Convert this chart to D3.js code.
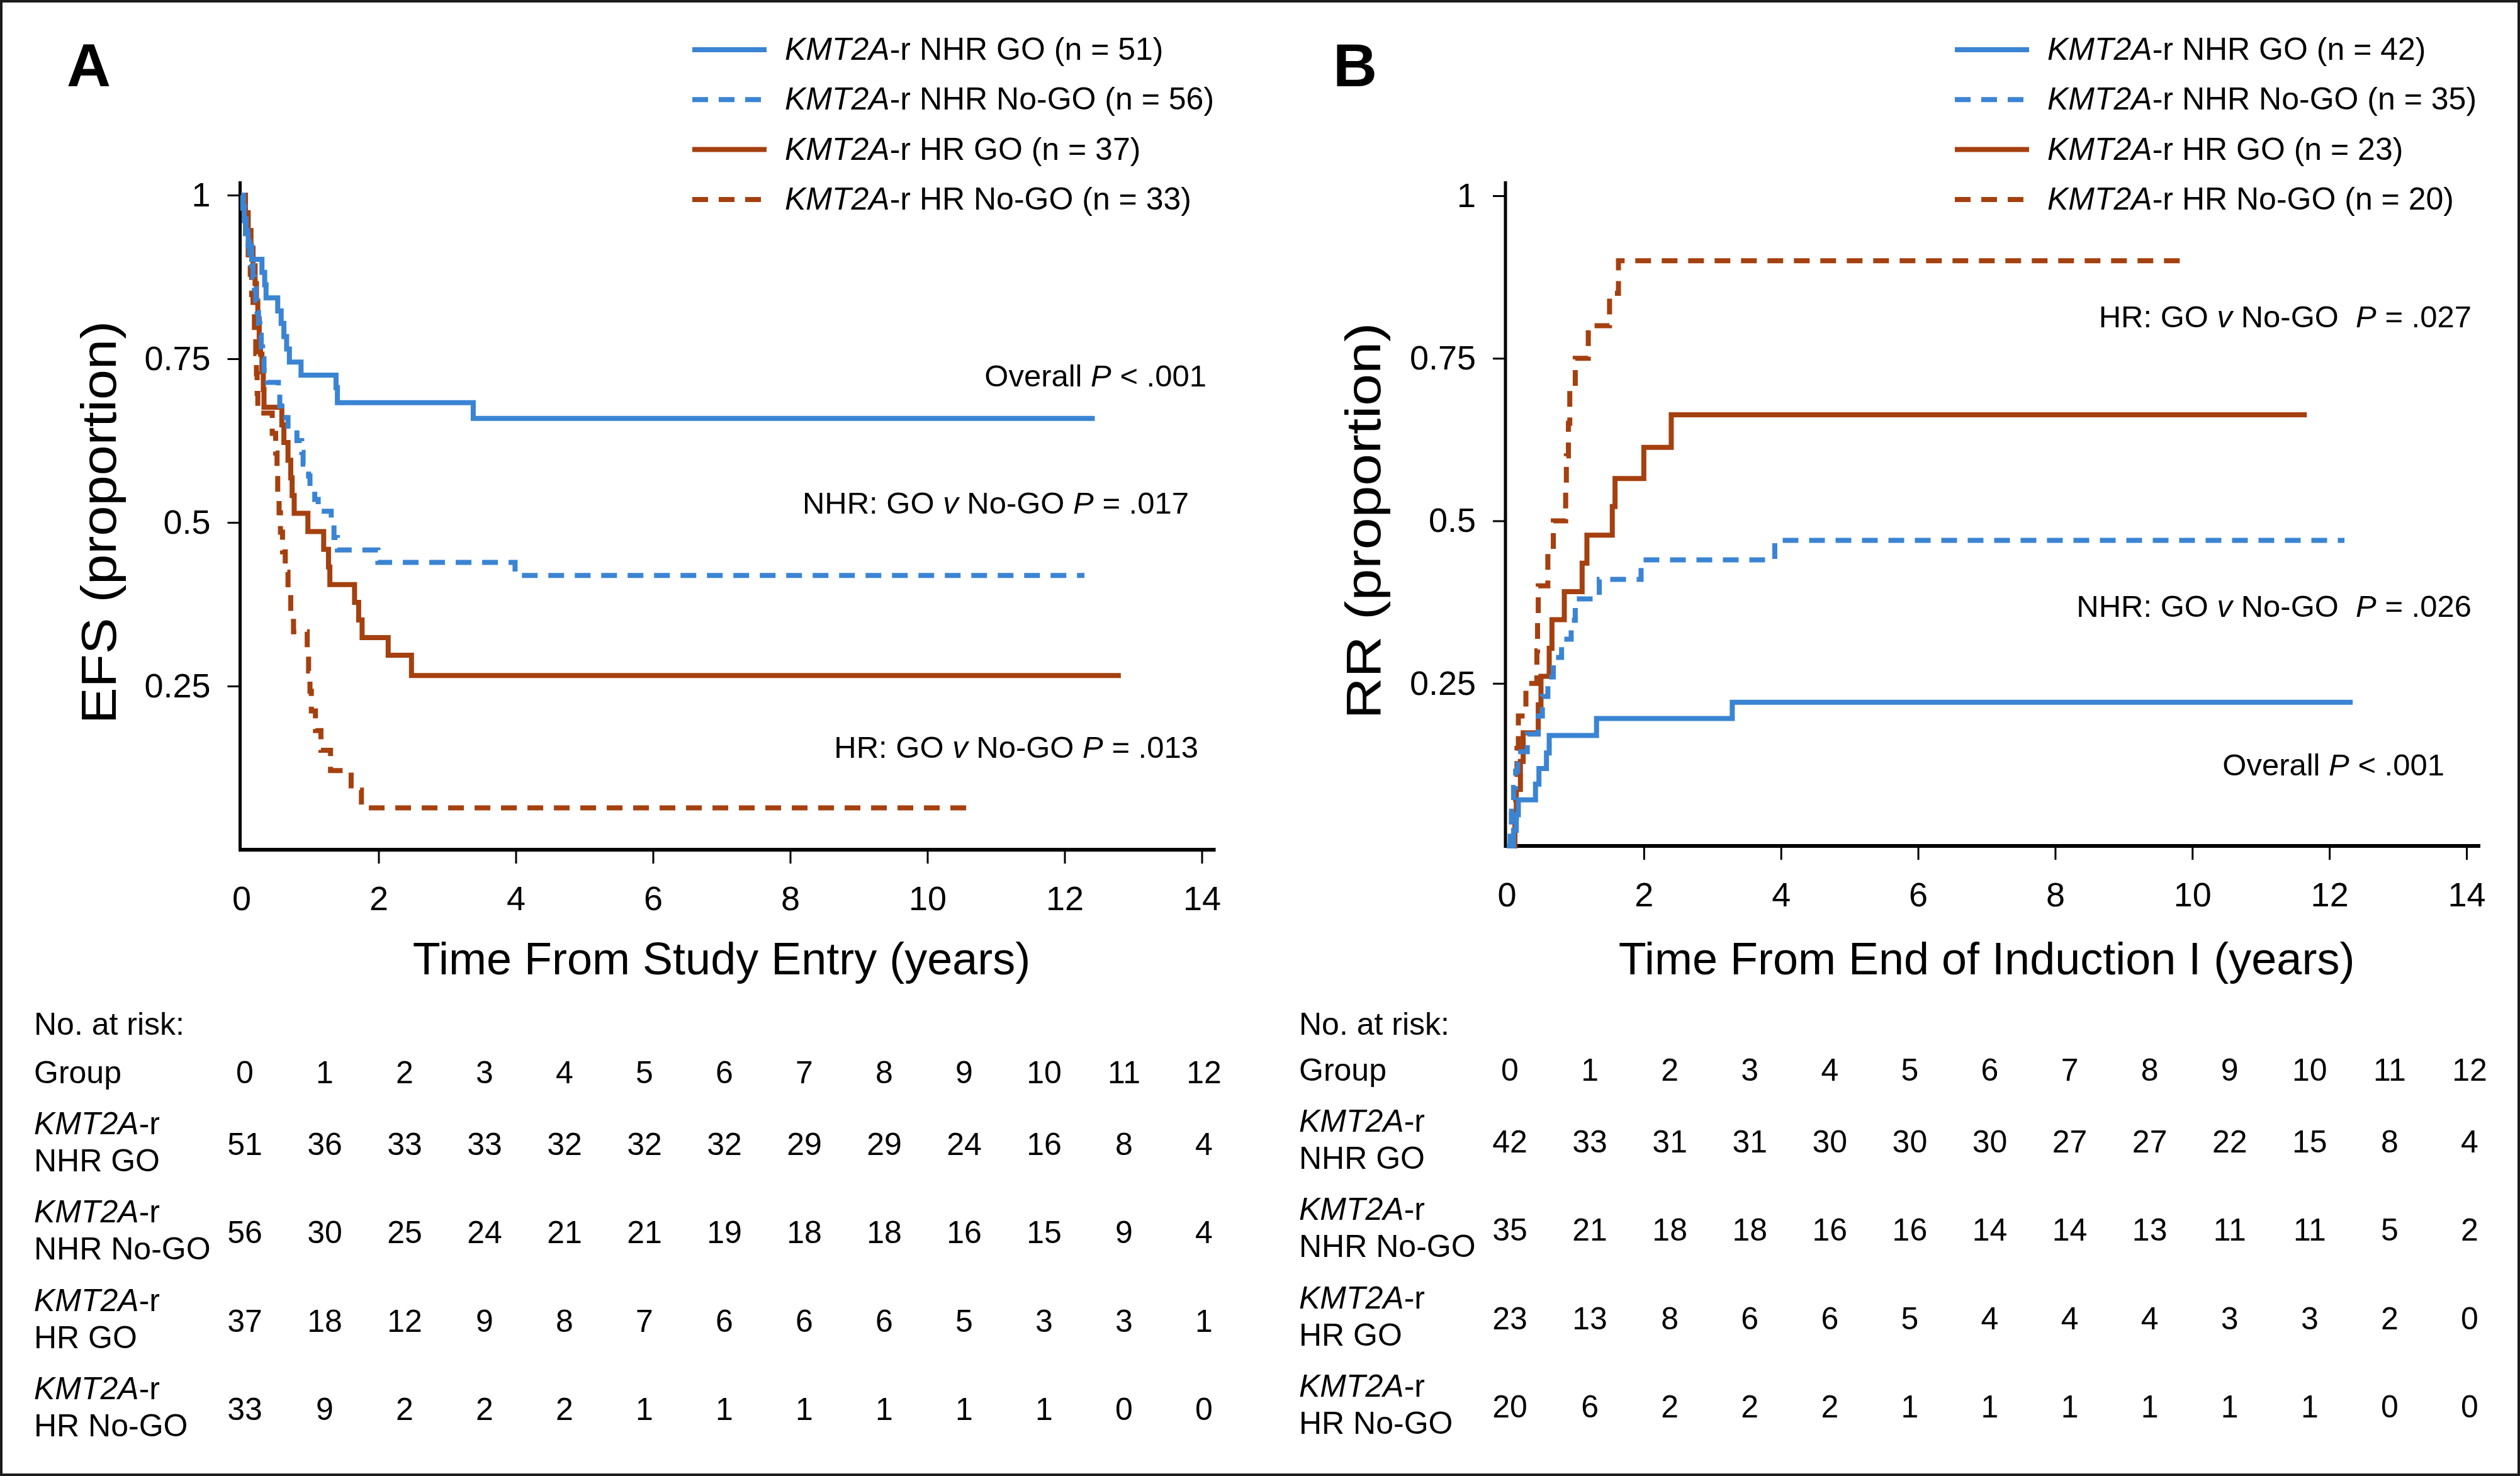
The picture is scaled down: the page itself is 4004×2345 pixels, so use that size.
<!DOCTYPE html>
<html><head><meta charset="utf-8">
<script src="https://cdn.jsdelivr.net/npm/d3@7"></script>
<style>
body{margin:0;background:#fff;}
svg{display:block;}
text{font-family:"Liberation Sans", Arial, Helvetica, sans-serif; fill:#000;}
</style></head><body>
<svg id="chart" width="4004" height="2345"></svg>
<script>
// ---------------- DATA ----------------
const groupNames = ["NHR GO", "NHR No-GO", "HR GO", "HR No-GO"];
const timeTicks = [0, 2, 4, 6, 8, 10, 12, 14];
const propTicks = [0.25, 0.5, 0.75, 1];
const riskTimes = [0, 1, 2, 3, 4, 5, 6, 7, 8, 9, 10, 11, 12];

// Panel A: EFS (Kaplan-Meier, [years, proportion] after each step)
const efsN = [51, 56, 37, 33];
const efsNhrGo = [[0,1],[0.02,0.98],[0.04,0.961],[0.06,0.941],[0.1,0.922],[0.15,0.902],[0.30,0.882],[0.34,0.863],[0.36,0.843],[0.53,0.823],[0.58,0.804],[0.62,0.784],[0.66,0.765],[0.70,0.745],[0.87,0.725],[1.38,0.706],[1.40,0.683],[3.38,0.659]];
const efsNhrNoGo = [[0,1],[0.03,0.982],[0.05,0.964],[0.07,0.946],[0.09,0.929],[0.12,0.911],[0.15,0.893],[0.17,0.875],[0.19,0.857],[0.21,0.839],[0.23,0.821],[0.25,0.804],[0.27,0.786],[0.29,0.768],[0.31,0.75],[0.33,0.732],[0.38,0.714],[0.54,0.696],[0.56,0.678],[0.65,0.66],[0.68,0.643],[0.81,0.625],[0.88,0.607],[0.90,0.589],[0.98,0.571],[1.00,0.553],[1.07,0.535],[1.12,0.517],[1.31,0.496],[1.35,0.477],[1.40,0.458],[1.99,0.439],[3.99,0.419]];
const efsHrGo = [[0,1],[0.06,0.973],[0.1,0.946],[0.14,0.919],[0.17,0.892],[0.2,0.865],[0.22,0.838],[0.24,0.811],[0.26,0.784],[0.28,0.757],[0.30,0.730],[0.32,0.703],[0.33,0.676],[0.59,0.649],[0.62,0.622],[0.68,0.595],[0.72,0.568],[0.74,0.541],[0.77,0.514],[0.97,0.486],[1.2,0.459],[1.27,0.432],[1.29,0.405],[1.65,0.378],[1.71,0.351],[1.76,0.324],[2.14,0.297],[2.48,0.266]];
const efsHrNoGo = [[0,1],[0.05,0.97],[0.08,0.939],[0.1,0.909],[0.13,0.879],[0.15,0.848],[0.17,0.818],[0.19,0.788],[0.21,0.758],[0.22,0.727],[0.23,0.697],[0.24,0.667],[0.45,0.636],[0.5,0.606],[0.52,0.576],[0.53,0.545],[0.55,0.515],[0.57,0.485],[0.6,0.455],[0.64,0.424],[0.68,0.394],[0.72,0.364],[0.76,0.333],[0.96,0.303],[0.98,0.273],[1.0,0.242],[1.02,0.212],[1.08,0.182],[1.16,0.152],[1.3,0.121],[1.6,0.091],[1.75,0.064]];
const efsLastTime = [12.44, 12.29, 12.82, 10.6];
const efsAtRisk = [
  [51,36,33,33,32,32,32,29,29,24,16,8,4],
  [56,30,25,24,21,21,19,18,18,16,15,9,4],
  [37,18,12,9,8,7,6,6,6,5,3,3,1],
  [33,9,2,2,2,1,1,1,1,1,1,0,0]
];
const efsNotes = [
  [["Overall ",0],["P",1],[" < .001",0]],
  [["NHR: GO ",0],["v",1],[" No-GO ",0],["P",1],[" = .017",0]],
  [["HR: GO ",0],["v",1],[" No-GO ",0],["P",1],[" = .013",0]]
];

// Panel B: RR (cumulative incidence)
const rrN = [42, 35, 23, 20];
const rrNhrGo = [[0,0],[0.1,0.024],[0.14,0.048],[0.17,0.071],[0.42,0.095],[0.47,0.119],[0.58,0.143],[0.62,0.17],[1.31,0.196],[3.29,0.221]];
const rrNhrNoGo = [[0,0],[0.05,0.03],[0.07,0.06],[0.1,0.09],[0.13,0.115],[0.16,0.145],[0.3,0.172],[0.46,0.2],[0.52,0.23],[0.6,0.26],[0.68,0.29],[0.8,0.318],[0.94,0.347],[1.0,0.38],[1.35,0.41],[1.96,0.44],[3.91,0.47]];
const rrHrGo = [[0,0],[0.12,0.043],[0.14,0.087],[0.2,0.13],[0.24,0.174],[0.46,0.217],[0.5,0.261],[0.62,0.304],[0.66,0.348],[0.84,0.391],[1.1,0.435],[1.17,0.478],[1.54,0.522],[1.58,0.565],[2.0,0.613],[2.4,0.663]];
const rrHrNoGo = [[0,0],[0.07,0.05],[0.13,0.10],[0.15,0.15],[0.17,0.20],[0.28,0.25],[0.44,0.30],[0.45,0.35],[0.46,0.40],[0.6,0.45],[0.68,0.50],[0.86,0.55],[0.87,0.60],[0.9,0.65],[0.92,0.70],[1.0,0.75],[1.19,0.80],[1.5,0.85],[1.63,0.90]];
const rrLastTime = [12.34, 12.22, 11.67, 9.85];
const rrAtRisk = [
  [42,33,31,31,30,30,30,27,27,22,15,8,4],
  [35,21,18,18,16,16,14,14,13,11,11,5,2],
  [23,13,8,6,6,5,4,4,4,3,3,2,0],
  [20,6,2,2,2,1,1,1,1,1,1,0,0]
];
const rrNotes = [
  [["HR: GO ",0],["v",1],[" No-GO  ",0],["P",1],[" = .027",0]],
  [["NHR: GO ",0],["v",1],[" No-GO  ",0],["P",1],[" = .026",0]],
  [["Overall ",0],["P",1],[" < .001",0]]
];

// ---------------- STYLE ----------------
const BLUE = "#3a84d3", BROWN = "#a5400f";
const seriesColor = [BLUE, BLUE, BROWN, BROWN];
const seriesDash = [null, "25,17", null, "25,17"];
const FONT = '"Liberation Sans", Arial, Helvetica, sans-serif';

const svg = d3.select("#chart");
svg.append("rect").attr("x",0).attr("y",0).attr("width",4004).attr("height",2345).attr("fill","#fff");
svg.append("rect").attr("x",2).attr("y",2).attr("width",4000).attr("height",2341)
   .attr("fill","none").attr("stroke","#1c1c1c").attr("stroke-width",4);

function richText(sel, parts) {
  parts.forEach(([t, it]) => sel.append("tspan").attr("font-style", it ? "italic" : "normal").text(t));
}

function panel(o) {
  const g = svg.append("g");
  const x = d3.scaleLinear().domain([0, 14]).range(o.xRange);
  const y = d3.scaleLinear().domain([0, 1]).range(o.yRange);

  // panel letter
  g.append("text").attr("x", o.letterX).attr("y", 137).attr("font-size", 97)
    .attr("font-weight", "bold").text(o.letter);

  // axes
  const xAxis = d3.axisBottom(x).tickValues(timeTicks).tickSize(22).tickPadding(36).tickFormat(d3.format("d"));
  const gx = g.append("g").attr("transform", `translate(0,${y(0)})`).call(xAxis)
    .attr("font-size", null).attr("font-family", null);
  gx.select(".domain").remove();
  gx.selectAll(".tick line").attr("stroke", "#000").attr("stroke-width", 3).filter(d => d === 0).remove();
  gx.selectAll(".tick text").attr("font-size", 54).attr("fill", "#000").style("font-family", FONT);

  const yAxis = d3.axisLeft(y).tickValues(propTicks).tickSize(22).tickPadding(27)
    .tickFormat(d => d === 1 ? "1" : String(d));
  const gy = g.append("g").attr("transform", `translate(${x(0)},0)`).call(yAxis)
    .attr("font-size", null).attr("font-family", null);
  gy.select(".domain").remove();
  gy.selectAll(".tick line").attr("stroke", "#000").attr("stroke-width", 3);
  gy.selectAll(".tick text").attr("font-size", 54).attr("fill", "#000").style("font-family", FONT);

  g.append("line").attr("x1", x(0) - 2).attr("x2", x(0) - 2).attr("y1", 288).attr("y2", y(0) + 3)
    .attr("stroke", "#000").attr("stroke-width", 5);
  g.append("line").attr("x1", x(0) - 4).attr("x2", x(14) + 22).attr("y1", y(0)).attr("y2", y(0))
    .attr("stroke", "#000").attr("stroke-width", 6);

  // axis titles
  g.append("text").attr("x", (o.xRange[0] + o.xRange[1]) / 2).attr("y", 1548)
    .attr("text-anchor", "middle").attr("font-size", 72).text(o.xTitle);
  g.append("text").attr("transform", `translate(${o.yTitleX},${(o.yRange[0] + o.yRange[1]) / 2}) rotate(-90)`)
    .attr("text-anchor", "middle").attr("font-size", 78)
    .attr("textLength", o.yTitleLen).attr("lengthAdjust", "spacingAndGlyphs").text(o.yTitle);

  // curves
  const line = d3.line().x(d => x(d[0])).y(d => y(d[1])).curve(d3.curveStepAfter);
  [3, 2, 1, 0].forEach(i => {
    const c = o.curves[i];
    const pts = c.concat([[o.last[i], c[c.length - 1][1]]]);
    g.append("path").attr("d", line(pts)).attr("fill", "none")
      .attr("stroke", seriesColor[i]).attr("stroke-width", 8)
      .attr("stroke-dasharray", seriesDash[i]);
  });

  // legend
  groupNames.forEach((name, i) => {
    const ly = 79 + i * 79.3;
    g.append("line").attr("x1", o.legendX).attr("x2", o.legendX + 118).attr("y1", ly).attr("y2", ly)
      .attr("stroke", seriesColor[i]).attr("stroke-width", 8).attr("stroke-dasharray", seriesDash[i]);
    const t = g.append("text").attr("x", o.legendX + 147).attr("y", ly + 16).attr("font-size", 50);
    richText(t, [["KMT2A", 1], [`-r ${name} (n = ${o.n[i]})`, 0]]);
  });

  // annotations
  o.notes.forEach((parts, i) => {
    const t = g.append("text").attr("x", o.notePos[i][0]).attr("y", o.notePos[i][1])
      .attr("text-anchor", "end").attr("font-size", 49).style("white-space", "pre");
    richText(t, parts);
  });

  // risk table
  const cx = d3.scaleLinear().domain([0, 12]).range(o.colRange);
  const tb = g.append("g").attr("font-size", 50);
  tb.append("text").attr("x", o.tableX).attr("y", 1644).text("No. at risk:");
  tb.append("text").attr("x", o.tableX).attr("y", 1721 + o.dy).text("Group");
  riskTimes.forEach(tm => tb.append("text").attr("x", cx(tm)).attr("y", 1721 + o.dy)
    .attr("text-anchor", "middle").text(tm));
  groupNames.forEach((name, r) => {
    const base = 1802 + r * 140.3 + o.dy;
    const l1 = tb.append("text").attr("x", o.tableX).attr("y", base);
    richText(l1, [["KMT2A", 1], ["-r", 0]]);
    tb.append("text").attr("x", o.tableX).attr("y", base + 59).text(name);
    o.risk[r].forEach((v, k) => tb.append("text").attr("x", cx(riskTimes[k])).attr("y", base + 33)
      .attr("text-anchor", "middle").text(v));
  });
}

panel({
  letter: "A", letterX: 106,
  xRange: [383.5, 1909.5], yRange: [1350, 310],
  xTitle: "Time From Study Entry (years)", yTitle: "EFS (proportion)", yTitleX: 184, yTitleLen: 640,
  curves: [efsNhrGo, efsNhrNoGo, efsHrGo, efsHrNoGo], last: efsLastTime, n: efsN,
  legendX: 1100, notes: efsNotes, notePos: [[1917, 614], [1889, 816], [1904, 1204]],
  tableX: 54, colRange: [389, 1913], risk: efsAtRisk, dy: 0
});
panel({
  letter: "B", letterX: 2118,
  xRange: [2394, 3919], yRange: [1344, 311],
  xTitle: "Time From End of Induction I (years)", yTitle: "RR (proportion)", yTitleX: 2193, yTitleLen: 630,
  curves: [rrNhrGo, rrNhrNoGo, rrHrGo, rrHrNoGo], last: rrLastTime, n: rrN,
  legendX: 3106, notes: rrNotes, notePos: [[3927, 520], [3927, 980], [3884, 1232]],
  tableX: 2064, colRange: [2399, 3924], risk: rrAtRisk, dy: -4
});
</script>
</body></html>
